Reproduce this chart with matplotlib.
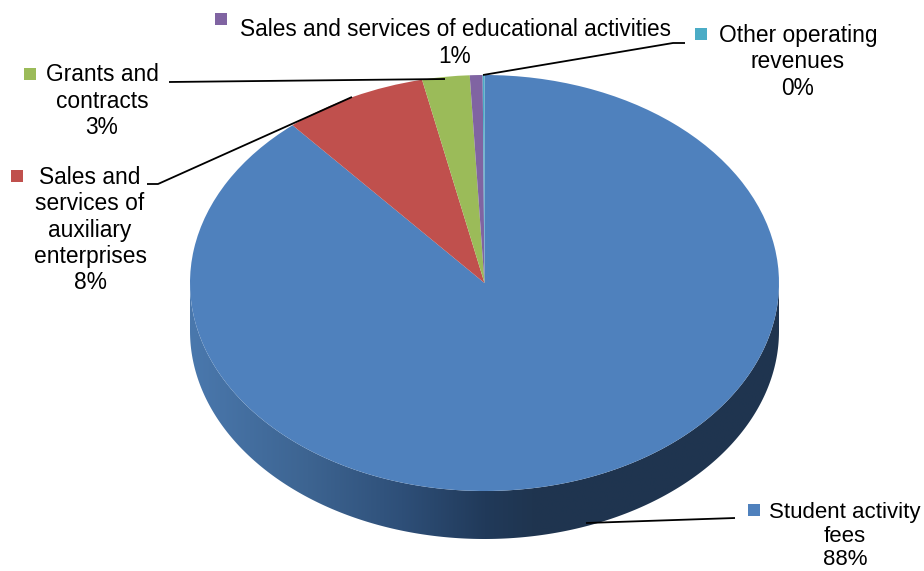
import numpy as np
import matplotlib
matplotlib.use("Agg")
import matplotlib.pyplot as plt
from matplotlib.colors import LinearSegmentedColormap
from matplotlib.patches import Polygon

# Values (slice sizes as drawn, percentages as printed)
names = ["Student activity\nfees", "Sales and\nservices of\nauxiliary\nenterprises", "Grants and\ncontracts",
         "Sales and services of educational activities", "Other operating\nrevenues"]
values = [88.7, 7.9, 2.6, 0.7, 0.1]
percents = [88, 8, 3, 1, 0]
colors = ["#4F81BD", "#C0504D", "#9BBB59", "#8064A2", "#4BACC6"]

W, H = 924, 571
CX, CY, RX, RY = 484.5, 283, 294.5, 208
DEPTH = 48 / RY


def px(x, y):
    # picture pixels -> pie data units
    return (x - CX) / RX, (CY - y) / RY


plt.rcParams["font.family"] = ["Liberation Sans", "DejaVu Sans"]

fig = plt.figure(figsize=(W / 100, H / 100), dpi=100)
ax = fig.add_axes([0, 0, 1, 1])

ax.pie(values, colors=colors, startangle=90, counterclock=False, radius=1,
       wedgeprops={"linewidth": 0, "zorder": 3})

# -------------------------------
# Side wall of the 3D pie
# -------------------------------
theta = np.linspace(np.pi, 2 * np.pi, 300)
wall_x = np.concatenate([np.cos(theta), np.cos(theta[::-1])])
wall_y = np.concatenate([np.sin(theta) - DEPTH, np.sin(theta[::-1])])
wall = Polygon(np.column_stack([wall_x, wall_y]), closed=True, transform=ax.transData,
               facecolor="none", edgecolor="none")
ax.add_patch(wall)

wall_cmap = LinearSegmentedColormap.from_list(
    "wall", [(0, "#4A78AD"), (0.2, "#3D6491"), (0.36, "#2E4F78"), (0.5, "#213A5A"),
             (0.58, "#1F3550"), (1, "#1F344F")])
img = ax.imshow(np.linspace(0, 1, 256).reshape(1, -1), cmap=wall_cmap, aspect="auto",
                extent=(-1, 1, -1 - DEPTH, 0.2), zorder=2, interpolation="bilinear")
img.set_clip_path(wall)

# -------------------------------
# Labels, keys and leader lines
# -------------------------------
label_pos = [(845, 536), (90, 230), (102, 101), (455, 43), (798, 62)]
key_pos = [(754, 510), (17, 176), (30, 74), (221, 19), (701, 34)]
sizes = [16.0, 16.4, 16.4, 16.3, 16.4]
leaders = [
    [(586, 523), (735, 518)],
    [(147, 184), (158, 184), (352, 97)],
    [(169, 82), (445, 79)],
    [],
    [(483, 75), (673, 43), (685, 43)],
]

for name, pct, col, lp, kp, size, line in zip(names, percents, colors, label_pos, key_pos, sizes, leaders):
    ax.text(*px(*lp), f"{name}\n{pct}%", ha="center", va="center", fontsize=size,
            linespacing=1.18, color="black", zorder=6)
    ax.plot(*px(*kp), marker="s", markersize=8.6, color=col, markeredgewidth=0,
            linestyle="none", zorder=6, clip_on=False)
    if line:
        xs, ys = px(*np.array(line).T)
        ax.plot(xs, ys, color="black", lw=1.3, zorder=5, solid_capstyle="butt")

# pie() fixes an equal aspect, the squash comes from the limits
ax.set_aspect("auto")
x0, y0 = px(0, H)
x1, y1 = px(W, 0)
ax.set_xlim(x0, x1)
ax.set_ylim(y0, y1)
ax.axis("off")

fig.savefig("out.png", dpi=100, facecolor="white")
